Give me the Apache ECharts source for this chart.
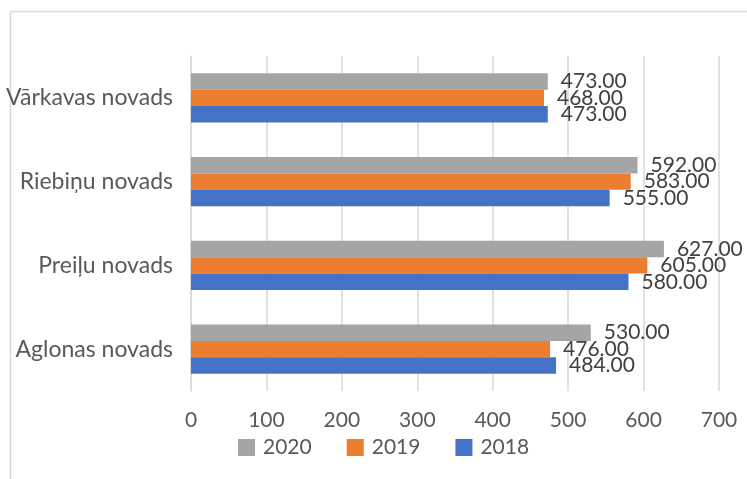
<!DOCTYPE html>
<html><head><meta charset="utf-8">
<script src="https://cdn.jsdelivr.net/npm/echarts@6/dist/echarts.min.js"></script>
<style>html,body{margin:0;padding:0;background:#fff}#c{width:747px;height:479px}</style>
</head><body><div id="c"></div>
<script>
const categories = ['Aglonas novads', 'Preiļu novads', 'Riebiņu novads', 'Vārkavas novads'];
const s2018 = [484, 580, 555, 473];
const s2019 = [476, 605, 583, 468];
const s2020 = [530, 627, 592, 473];
const legendOrder = ['2020', '2019', '2018'];
const ticks = [0, 100, 200, 300, 400, 500, 600, 700];

const colors = {'2018': '#4472C4', '2019': '#ED7D31', '2020': '#A5A5A5'};
const font = 'Lato, "Liberation Sans", sans-serif';
const chart = echarts.init(document.getElementById('c'), null, {renderer: 'canvas'});
const mk = (name, data) => ({
  name, type: 'bar', data, barGap: '0%', barCategoryGap: '41%',
  itemStyle: {color: colors[name]},
  label: {show: true, position: 'right', distance: 13, formatter: p => p.value.toFixed(2),
    color: '#404040', fontSize: 21, fontFamily: font}
});
chart.setOption({
  animation: false,
  graphic: [{type: 'rect', shape: {x: 10.5, y: 11.5, width: 800, height: 600},
    style: {fill: null, stroke: '#d9d9d9', lineWidth: 1.5}, z: -1}],
  grid: {left: 191, right: 28, top: 56, bottom: 88, containLabel: false},
  legend: {data: legendOrder, top: 437, left: 238, padding: 0, itemWidth: 17, itemHeight: 17, itemGap: 35,
    icon: 'rect', textStyle: {color: '#595959', fontSize: 21, fontFamily: font, padding: [0, 0, 0, 3]}},
  xAxis: {type: 'value', min: ticks[0], max: ticks[ticks.length - 1], interval: 100,
    axisLine: {show: false}, axisTick: {show: false},
    splitLine: {lineStyle: {color: '#d9d9d9', width: 1.5}},
    axisLabel: {color: '#595959', fontSize: 21, fontFamily: font, margin: 19}},
  yAxis: {type: 'category', data: categories,
    axisLine: {show: true, lineStyle: {color: '#d9d9d9', width: 1.5}}, axisTick: {show: false},
    axisLabel: {color: '#595959', fontSize: 23, fontFamily: font, margin: 18}},
  series: [mk('2020', s2020), mk('2019', s2019), mk('2018', s2018)]
});
</script></body></html>
